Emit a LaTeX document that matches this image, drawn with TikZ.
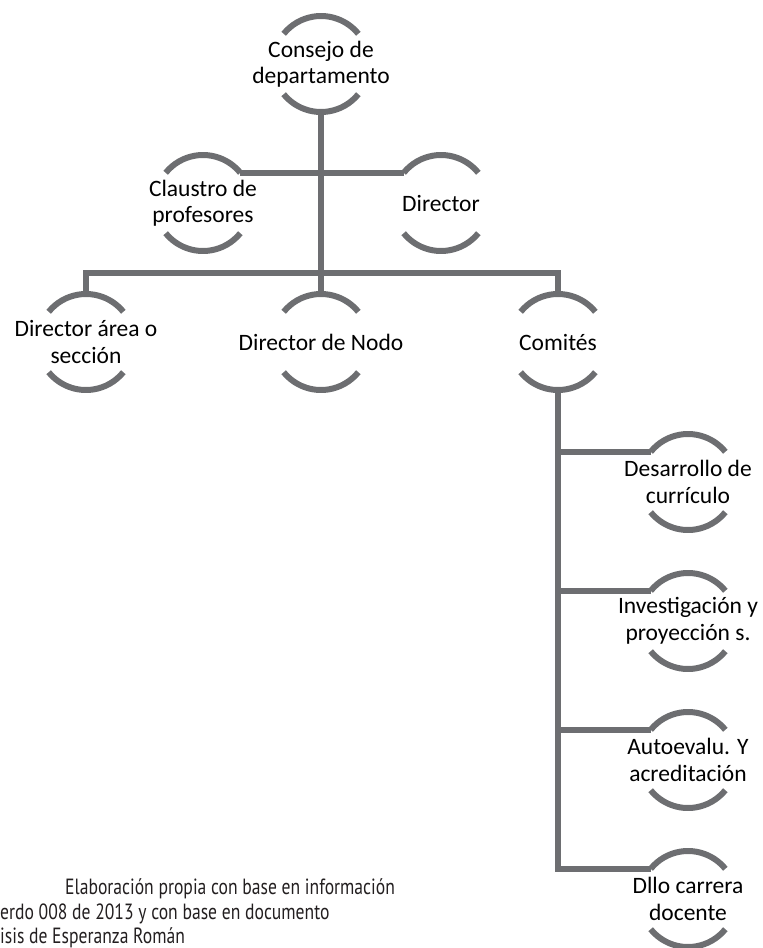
\documentclass[tikz,border=0pt]{standalone}
\usepackage{fontspec}
\setmainfont{Carlito}
\newfontfamily\capfont[FakeStretch=0.8]{PT Sans}
\definecolor{orggrey}{RGB}{109,110,113}
\definecolor{captext}{RGB}{35,31,32}
\tikzset{
  ring/.style={circle,minimum size=96pt,inner sep=0pt,outer sep=0pt},
  lbl/.style={align=center,font=\fontsize{23.5}{26.5}\selectfont,inner sep=0pt},
  conn/.style={draw=orggrey,line width=6pt},
  captxt/.style={anchor=base west,inner sep=0pt,text=captext,font=\capfont\fontsize{22}{25}\selectfont},
}
\newcommand\orgunit[4]{%
  \node[ring] (#1) at (#2,#3) {};
  \node[lbl] (#1-t) at (#1.center) {#4};
  \draw[conn] (#1.39) arc[start angle=39,end angle=141,radius=48pt];
  \draw[conn] (#1.219) arc[start angle=219,end angle=321,radius=48pt];
}
\begin{document}
\begin{tikzpicture}[x=1pt,y=1pt]
\useasboundingbox (0,0) rectangle (763,-948);
\orgunit{cons}{321}{-64}{Consejo de\\departamento}
\orgunit{claus}{203}{-203}{Claustro de\\profesores}
\orgunit{dir}{441}{-203}{Director}
\orgunit{area}{86}{-342}{Director área o\\sección}
\orgunit{nodo}{321}{-342}{Director de Nodo}
\orgunit{com}{558}{-342}{Comités}
\orgunit{d1}{688}{-482}{Desarrollo de\\currículo}
\orgunit{d2}{688}{-621}{Investigación y\\proyección s.}
\orgunit{d3}{688}{-760}{Autoevalu. Y\\acreditación}
\orgunit{d4}{688}{-899}{Dllo carrera\\docente}
% connectors
\draw[conn] (cons.south) -- (nodo.north);
\draw[conn] (claus.39) -- (dir.141);
\coordinate (bus) at (321,-273);
\draw[conn] (area.north) |- (bus) -| (com.north);
\draw[conn] (com.south) |- (d4.141);
\foreach \k in {d1,d2,d3} {\draw[conn] (com.south |- \k.141) -- (\k.141);}
% caption
\node[captxt] (cap1) at (65,-894) {Elaboración propia con base en información};
\node[captxt] (cap2) at (0,-919) {erdo 008 de 2013 y con base en documento};
\node[captxt] (cap3) at (0,-943) {isis de Esperanza Román};
\end{tikzpicture}
\end{document}
